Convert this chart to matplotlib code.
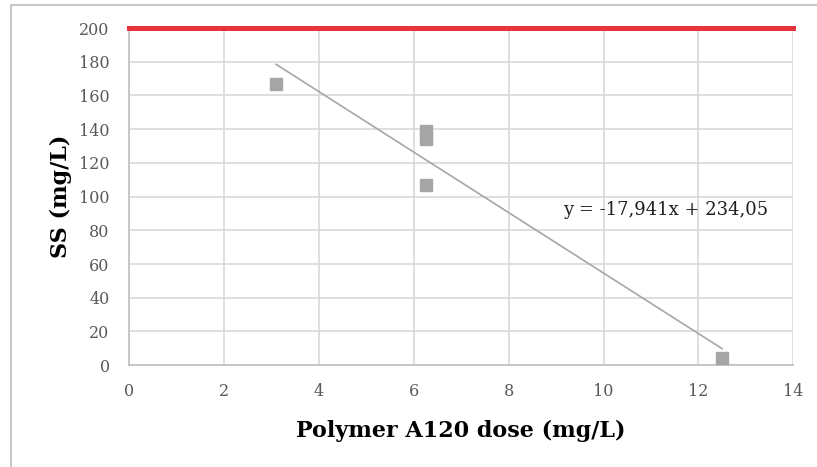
import numpy as np
import matplotlib
matplotlib.use("Agg")
import matplotlib.pyplot as plt
from matplotlib.lines import Line2D

# Data
dose = [3.1, 6.25, 6.25, 6.25, 12.5]
ss = [167, 139, 134, 107, 4]
slope = -17.941
intercept = 234.05
limit = 200
eq_label = "y = -17,941x + 234,05"

plt.rcParams['font.family'] = ['DejaVu Serif']

fig = plt.figure(figsize=(8.17, 4.67), dpi=100)
ax = fig.add_axes([0.158, 0.218, 0.813, 0.722])

# Trendline over data range
xt = np.array([min(dose), max(dose)])
ax.plot(xt, slope * xt + intercept, color='#a6a6a6', lw=1.2, zorder=3)
ax.plot(dose, ss, 's', color='#a5a5a5', markersize=8.5, zorder=4)

# Limit line
ax.axhline(limit, color='#e8323c', lw=3.6, zorder=5, clip_on=False)

ax.set_xlim(0, 14)
ax.set_ylim(0, 200)
ax.set_xticks(range(0, 15, 2))
ax.set_yticks(range(0, 201, 20))
ax.grid(True, color='#d9d9d9', lw=1.2)
ax.set_axisbelow(True)
for s in ['top', 'right']:
    ax.spines[s].set_visible(False)
for s in ['left', 'bottom']:
    ax.spines[s].set_color('#bfbfbf')
    ax.spines[s].set_linewidth(1.2)
ax.tick_params(length=0, labelsize=11.5, colors='#595959')
ax.tick_params(axis='x', pad=13)
ax.tick_params(axis='y', pad=14)

ax.set_xlabel('Polymer A120 dose (mg/L)', fontsize=16, fontweight='bold', labelpad=14)
ax.set_ylabel('SS (mg/L)', fontsize=16, fontweight='bold', labelpad=5)

ax.text(9.15, 92, eq_label, fontsize=13, color='#1f1f1f', va='center')

# Outer frame (left and top edges visible in the crop)
fig.add_artist(Line2D([0.013, 1.0], [0.990, 0.990], color='#c8c8c8', lw=1.5))
fig.add_artist(Line2D([0.013, 0.013], [0.0, 0.990], color='#c8c8c8', lw=1.5))

fig.savefig('out.png', dpi=100)
